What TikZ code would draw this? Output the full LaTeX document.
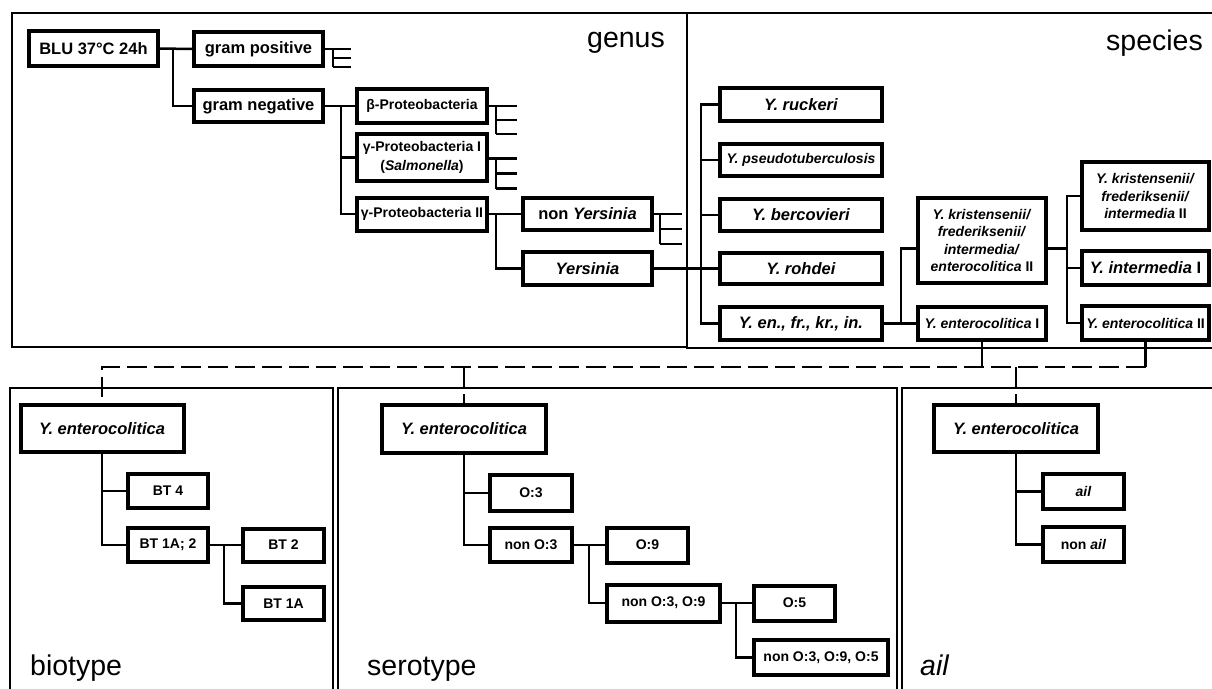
\documentclass[tikz,border=0pt]{standalone}
\usepackage{fontspec}
\setmainfont{Liberation Sans}

\begin{document}
\begin{tikzpicture}[%
    x=1pt, y=-1pt,
    panel/.style={%
        draw,
        line width=2.3pt
    },
    box/.style={%
        draw,
        rectangle,
        line width=4pt,
        inner sep=0pt,
        align=center,
        font=\fontsize{16.5}{18}\selectfont\bfseries
    },
    smallbox/.style={%
        box,
        font=\fontsize{14}{17.6}\selectfont\bfseries
    },
    dims/.style 2 args={%
        minimum width=#1pt,
        minimum height=#2pt
    },
    conn/.style={%
        line width=2.5pt
    },
    dashline/.style={%
        line width=2.5pt,
        dash pattern=on 20pt off 7pt
    },
    tierlabel/.style={%
        inner sep=0pt,
        font=\fontsize{28.5}{30}\selectfont
    }
]
\useasboundingbox (0,0) rectangle (1212,688);

% Panels
    \draw[panel] (12,13) rectangle (687,347);
    \draw[panel] (687,13) rectangle (1230,348);
    \draw[panel] (10,388) rectangle (333,700);
    \draw[panel] (338,388) rectangle (897,700);
    \draw[panel] (902,388) rectangle (1230,700);

    \node[tierlabel, anchor=base east] (genusLabel) at (665,47) {genus};
    \node[tierlabel, anchor=base east] (speciesLabel) at (1203,50) {species};
    \node[tierlabel, anchor=base west] (biotypeLabel) at (30,675) {biotype};
    \node[tierlabel, anchor=base west] (serotypeLabel) at (367,675) {serotype};
    \node[tierlabel, anchor=base west] (ailLabel) at (920,675) {\itshape ail};

% Genus
    \node[box, dims={129}{35}] (blu) at (93.5,48.5) {BLU 37°C 24h};
    \node[box, dims={129}{34}] (gramPos) at (258.5,49) {gram positive};
    \node[box, dims={129}{32}] (gramNeg) at (258.5,106) {gram negative};
    \node[smallbox, dims={130}{34}] (betaProt) at (422,106) {β-Proteobacteria};
    \node[smallbox, dims={130}{47}, font=\fontsize{14}{19}\selectfont\bfseries] (gammaProtI) at (422,157.5) {γ-Proteobacteria I\\(\textit{Salmonella})};
    \node[smallbox, dims={130}{33}] (gammaProtII) at (422,214) {γ-Proteobacteria II};
    \node[box, dims={129}{32}] (nonYers) at (587.5,214) {non \textit{Yersinia}};
    \node[box, dims={129}{33}] (yers) at (587.5,268.5) {\textit{Yersinia}};

% Species
    \node[box, dims={162}{33}] (ruckeri) at (801,104.5) {\textit{Y. ruckeri}};
    \node[smallbox, dims={162}{32}] (pseudo) at (801,160) {\textit{Y. pseudotuberculosis}};
    \node[box, dims={162}{32}] (bercovieri) at (801,215) {\textit{Y. bercovieri}};
    \node[box, dims={162}{31}] (rohdei) at (801,268.5) {\textit{Y. rohdei}};
    \node[box, dims={162}{33}] (yEn) at (801,323.5) {\textit{Y. en., fr., kr., in.}};
    \node[smallbox, dims={128}{85}] (kris4) at (982,240.5) {\textit{Y. kristensenii/}\\\textit{frederiksenii/}\\\textit{intermedia/}\\\textit{enterocolitica} II};
    \node[smallbox, dims={128}{33}] (entI) at (982,323.5) {\textit{Y. enterocolitica} I};
    \node[smallbox, dims={127}{68}] (kris3) at (1145.5,196) {\textit{Y. kristensenii/}\\\textit{frederiksenii/}\\\textit{intermedia} II};
    \node[box, dims={127}{34}] (intI) at (1145.5,268) {\textit{Y. intermedia} I};
    \node[smallbox, dims={127}{34}] (entII) at (1145.5,323) {\textit{Y. enterocolitica} II};

% Biotype
    \node[box, dims={163}{47}] (bioEnt) at (102,428.5) {\textit{Y. enterocolitica}};
    \node[smallbox, dims={80}{34}] (bt4) at (168,491) {BT 4};
    \node[smallbox, dims={80}{34}] (bt1a2) at (168,545) {BT 1A; 2};
    \node[smallbox, dims={81}{33}] (bt2) at (283.5,545) {BT 2};
    \node[smallbox, dims={81}{33}] (bt1a) at (283.5,603.5) {BT 1A};

% Serotype
    \node[box, dims={164}{48}] (seroEnt) at (464,429) {\textit{Y. enterocolitica}};
    \node[smallbox, dims={82}{36}] (o3) at (531,493) {O:3};
    \node[smallbox, dims={82}{34}] (nonO3) at (531,545) {non O:3};
    \node[smallbox, dims={81}{35}] (o9) at (647.5,545) {O:9};
    \node[smallbox, dims={113}{37}] (nonO39) at (663.5,603) {non O:3, O:9};
    \node[smallbox, dims={81}{35}] (o5) at (794.5,603) {O:5};
    \node[smallbox, dims={134}{35}] (nonO395) at (821,657.5) {non O:3, O:9, O:5};

% ail
    \node[box, dims={164}{47}] (ailEnt) at (1016,428.5) {\textit{Y. enterocolitica}};
    \node[smallbox, dims={81}{35}] (ailBox) at (1083.5,491.5) {\textit{ail}};
    \node[smallbox, dims={81}{35}] (nonAil) at (1083.5,544.5) {non \textit{ail}};

% Connectors genus
\draw[conn] (blu.east) -- (gramPos.west);
\draw[conn] (blu.east) ++(13,0) |- (gramNeg.west);

\draw[conn] (gramPos.east) -- ++(8,0) -- ++(0,18);
\draw[conn] (gramPos.east) ++(8,0) -- ++(18,0);
\draw[conn] (gramPos.east) ++(8,9) -- ++(18,0);
\draw[conn] (gramPos.east) ++(8,18) -- ++(18,0);

\draw[conn] (gramNeg.east) -- (betaProt.west);
\draw[conn] (gramNeg.east) ++(16,0) |- (gammaProtI.west);
\draw[conn] (gramNeg.east) ++(16,0) |- (gammaProtII.west);

\draw[conn] (betaProt.east) -- ++(7,0) -- ++(0,28);
\draw[conn] (betaProt.east) ++(7,0) -- ++(21,0);
\draw[conn] (betaProt.east) ++(7,14) -- ++(21,0);
\draw[conn] (betaProt.east) ++(7,28) -- ++(21,0);

\draw[conn] (gammaProtI.east) ++(0,1) -- ++(7,0) -- ++(0,30);
\draw[conn] (gammaProtI.east) ++(7,1) -- ++(21,0);
\draw[conn] (gammaProtI.east) ++(7,16) -- ++(21,0);
\draw[conn] (gammaProtI.east) ++(7,31) -- ++(21,0);

\draw[conn] (gammaProtII.east) -- (nonYers.west);
\draw[conn] (gammaProtII.east) ++(7,0) |- (yers.west);

\draw[conn] (nonYers.east) -- ++(6,0) -- ++(0,30);
\draw[conn] (nonYers.east) ++(6,0) -- ++(22,0);
\draw[conn] (nonYers.east) ++(6,15) -- ++(22,0);
\draw[conn] (nonYers.east) ++(6,30) -- ++(22,0);

% Connectors species
\draw[conn] (yers.east) -- (rohdei.west);
\draw[conn] (yers.east) ++(47,0) |- (ruckeri.west);
\draw[conn] (yers.east) ++(47,0) |- (pseudo.west);
\draw[conn] (yers.east) ++(47,0) |- (bercovieri.west);
\draw[conn] (yers.east) ++(47,0) |- (yEn.west);

\draw[conn] (yEn.east) -- (entI.west);
\draw[conn] (yEn.east) ++(17,0) |- ([yshift=-8pt]kris4.west);

\draw[conn] ([yshift=-8pt]kris4.east) -- ++(19,0) |- (kris3.west);
\draw[conn] ([yshift=-8pt]kris4.east) ++(19,0) |- (intI.west);
\draw[conn] ([yshift=-8pt]kris4.east) ++(19,0) |- (entII.west);

% Links to the lower panels
\coordinate (bus) at (0,367);
\draw[conn] (entI.south) -- (entI.south |- bus);
\draw[conn] (entII.south) -- (entII.south |- bus);
\draw[dashline] (entII.south |- bus) -| (bioEnt.north);
\draw[dashline] (seroEnt.north |- bus) -- (seroEnt.north);
\draw[dashline] (ailEnt.north |- bus) -- (ailEnt.north);

% Connectors biotype
\draw[conn] (bioEnt.south) |- (bt4.west);
\draw[conn] (bioEnt.south) |- (bt1a2.west);
\draw[conn] (bt1a2.east) -- (bt2.west);
\draw[conn] (bt1a2.east) ++(14,0) |- (bt1a.west);

% Connectors serotype
\draw[conn] (seroEnt.south) |- (o3.west);
\draw[conn] (seroEnt.south) |- (nonO3.west);
\draw[conn] (nonO3.east) -- (o9.west);
\draw[conn] (nonO3.east) ++(15,0) |- (nonO39.west);
\draw[conn] (nonO39.east) -- (o5.west);
\draw[conn] (nonO39.east) ++(14,0) |- (nonO395.west);

% Connectors ail
\draw[conn] (ailEnt.south) |- (ailBox.west);
\draw[conn] (ailEnt.south) |- (nonAil.west);

\end{tikzpicture}
\end{document}
